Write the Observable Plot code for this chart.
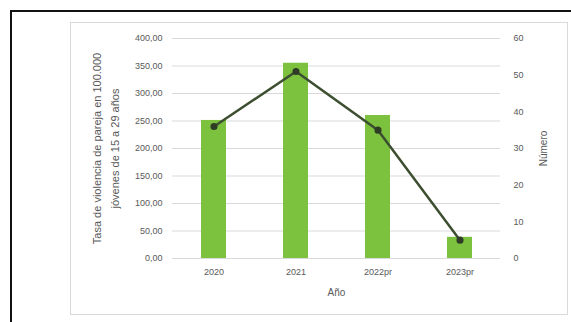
<!DOCTYPE html>
<html>
<head>
<meta charset="utf-8">
<script src="https://cdn.jsdelivr.net/npm/d3@7"></script>
<script src="https://cdn.jsdelivr.net/npm/@observablehq/plot@0.6"></script>
<style>
  html, body { margin: 0; padding: 0; background: #fff; }
  #wrap { position: relative; width: 571px; height: 322px; overflow: hidden; font-family: "Liberation Sans", Arial, sans-serif; }
  #outer { position: absolute; left: 10px; top: 10px; width: 600px; height: 400px; border-left: 2px solid #111; border-top: 2px solid #111; }
  #frame { position: absolute; left: 70px; top: 22px; width: 496px; height: 291px; border: 1px solid #d9d9d9; }
  #chart { position: absolute; left: 0; top: 0; }
</style>
</head>
<body>
<div id="wrap">
  <div id="outer"></div>
  <div id="frame"></div>
  <div id="chart"></div>
</div>
<script>
const years = ["2020", "2021", "2022pr", "2023pr"];
const rates = [251, 355, 260, 38.5];   // tasa por 100.000 jóvenes (eje izquierdo)
const counts = [36, 51, 35, 5];        // número (eje derecho)
const leftTicks = [0, 50, 100, 150, 200, 250, 300, 350, 400];
const rightTicks = [0, 10, 20, 30, 40, 50, 60];
const leftTitle1 = "Tasa de violencia de pareja en 100.000";
const leftTitle2 = "jóvenes de 15 a 29 años";
const rightTitle = "Número";
const xTitle = "Año";

const k = 400 / 60; // right axis mapping onto the left scale
const data = years.map((y, i) => ({year: y, rate: rates[i], count: counts[i]}));
const fmt2 = d => d3.format(".2f")(d).replace(".", ",");

const plot = Plot.plot({
  width: 571,
  height: 322,
  marginLeft: 172,
  marginRight: 71,
  marginTop: 38,
  marginBottom: 64,
  style: {fontFamily: "Liberation Sans, Arial, sans-serif", fontSize: "9px", color: "#595959", background: "transparent"},
  x: {domain: years, paddingInner: 0.7, paddingOuter: 0.35, label: null},
  y: {domain: [0, 400], label: null},
  marks: [
    Plot.ruleY(leftTicks, {stroke: "#d9d9d9", strokeWidth: 1}),
    Plot.barY(data, {x: "year", y: "rate", fill: "#7cc23e"}),
    Plot.line(data, {x: "year", y: d => d.count * k, stroke: "#3d4f31", strokeWidth: 2.5}),
    Plot.dot(data, {x: "year", y: d => d.count * k, r: 2.8, fill: "#2f3d27", stroke: "#2f3d27"}),
    Plot.axisY({ticks: leftTicks, tickFormat: fmt2, tickSize: 0, tickPadding: 10, label: null, fill: "#595959"}),
    Plot.axisY({anchor: "right", ticks: rightTicks.map(v => v * k), tickFormat: v => d3.format("d")(Math.round(v / k)), tickSize: 0, tickPadding: 13, label: null, fill: "#595959", textAnchor: "start"}),
    Plot.axisX({tickSize: 0, tickPadding: 10, label: null, fill: "#595959"}),
    Plot.text([leftTitle1], {frameAnchor: "left", dx: -75, rotate: -90, textAnchor: "middle", fontSize: 11, fill: "#595959"}),
    Plot.text([leftTitle2], {frameAnchor: "left", dx: -57, rotate: -90, textAnchor: "middle", fontSize: 11, fill: "#595959"}),
    Plot.text([rightTitle], {frameAnchor: "right", dx: 43, rotate: -90, textAnchor: "middle", fontSize: 10, fill: "#595959"}),
    Plot.text([xTitle], {frameAnchor: "bottom", dy: 37, textAnchor: "middle", fontSize: 10, fill: "#595959"})
  ]
});
document.getElementById("chart").appendChild(plot);
</script>
</body>
</html>
